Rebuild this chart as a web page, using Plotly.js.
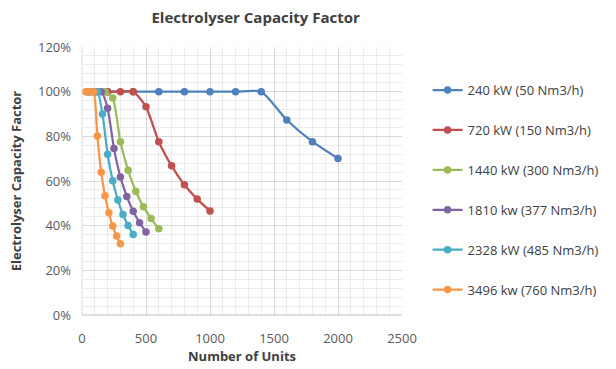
<!DOCTYPE html>
<html><head><meta charset="utf-8">
<script src="https://cdn.plot.ly/plotly-3.0.1.min.js"></script>
<style>html,body{margin:0;padding:0;background:#fff}#chart{width:616px;height:369px}</style>
</head><body><div id="chart"></div>
<script>
const seriesNames = ["240 kW (50 Nm3/h)","720 kW (150 Nm3/h)","1440 kW (300 Nm3/h)","1810 kw (377 Nm3/h)","2328 kW (485 Nm3/h)","3496 kw (760 Nm3/h)"];
const seriesColors = ["#4F81BD","#C0504D","#9BBB59","#8064A2","#4BACC6","#F79646"];
const units240 = [200,400,600,800,1000,1200,1400,1600,1800,2000];
const cf240 = [100,100,100,100,100,100,100,87.3,77.6,70.1];
const units720 = [100,200,300,400,500,600,700,800,900,1000];
const cf720 = [100,100,100,100,93.2,77.6,66.8,58.3,51.9,46.6];
const units1440 = [60,120,180,240,300,360,420,480,540,600];
const cf1440 = [100,100,100,97.2,77.6,64.8,55.4,48.5,43.2,38.6];
const units1810 = [50,100,150,200,250,300,350,400,450,500];
const cf1810 = [100,100,100,92.6,74.5,61.8,53.1,46.4,41.3,37.2];
const units2328 = [40,80,120,160,200,240,280,320,360,400];
const cf2328 = [100,100,100,90.0,72.0,60.1,51.5,45.0,40.1,36.0];
const units3496 = [30,60,90,120,150,180,210,240,270,300];
const cf3496 = [100,100,100,80.1,63.9,53.4,45.8,39.9,35.4,31.9];
const xs = [units240,units720,units1440,units1810,units2328,units3496];
const ys = [cf240,cf720,cf1440,cf1810,cf2328,cf3496];

const font = "Open Sans, Lato, sans-serif";
const traces = seriesNames.map((n,i)=>({
  type:'scatter', mode:'lines+markers', name:n, x:xs[i], y:ys[i],
  legendgroup:'g'+i,
  line:{color:seriesColors[i], width:2.25, shape:'spline', smoothing:0.6},
  marker:{color:seriesColors[i], size:7.5}
}));
const layout = {
  width:616, height:369,
  margin:{l:82, r:212, t:47, b:54},
  paper_bgcolor:'#fff', plot_bgcolor:'#fff',
  font:{family:font, color:'#595959', size:12},
  title:{text:'<b>Electrolyser Capacity Factor</b>', x:0.415, xanchor:'center', y:0.952, yanchor:'middle',
         font:{size:15, color:'#404040', family:font}},
  xaxis:{range:[0,2500], dtick:500, tick0:0, showline:false, zeroline:false,
         gridcolor:'#D9D9D9', gridwidth:1, ticks:'', ticklen:0, ticklabelstandoff:14,
         tickfont:{size:13, color:'#595959'},
         minor:{dtick:100, showgrid:true, gridcolor:'#EBEBEB', gridwidth:1},
         title:{text:'<b>Number of Units</b>', standoff:2, font:{size:13, color:'#404040'}}},
  yaxis:{range:[0,120], dtick:20, tick0:0, ticksuffix:'%', showline:false, zeroline:false,
         gridcolor:'#D9D9D9', gridwidth:1, ticks:'', ticklen:0, ticklabelstandoff:10,
         tickfont:{size:13, color:'#595959'},
         minor:{dtick:4, showgrid:true, gridcolor:'#EBEBEB', gridwidth:1},
         title:{text:'<b>Electrolyser Capacity Factor</b>', standoff:13, font:{size:13, color:'#404040'}}},
  shapes:[
    {type:'line', xref:'paper', yref:'paper', x0:0, x1:0, y0:0, y1:1, line:{color:'#D9D9D9', width:1}},
    {type:'line', xref:'paper', yref:'paper', x0:0, x1:1, y0:0, y1:0, line:{color:'#BFBFBF', width:1}}
  ],
  showlegend:true,
  legend:{x:1.08, xanchor:'left', y:0.895, yanchor:'top', traceorder:'grouped', tracegroupgap:20,
          itemwidth:30, font:{size:13, color:'#404040', family:font}, bgcolor:'rgba(0,0,0,0)'}
};
Plotly.newPlot('chart', traces, layout, {displayModeBar:false, staticPlot:true});
</script></body></html>
